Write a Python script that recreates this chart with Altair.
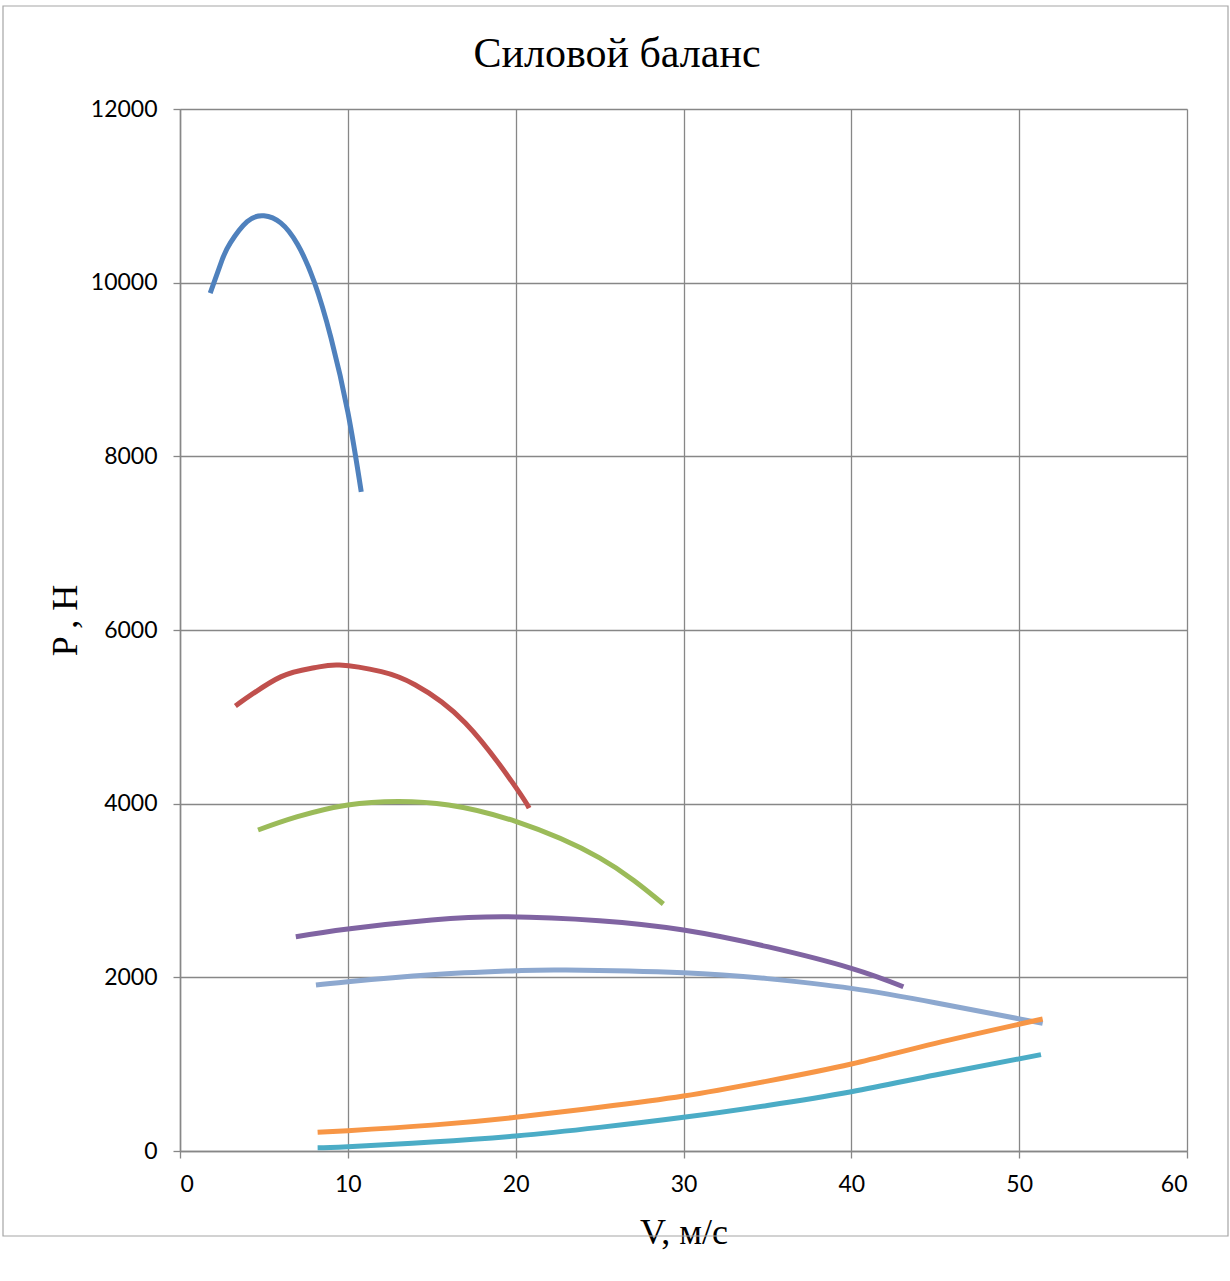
import altair as alt
import pandas as pd

# --- data ---
series_names = ["1", "2", "3", "4", "5", "Pψ+Pw", "Pw"]
series_colors = ["#4F81BD", "#C0504D", "#9BBB59", "#8064A2", "#8DA8CF", "#F79646", "#4BACC6"]

v1 = [1.8, 2.5, 3.0, 4.0, 5.0, 6.0, 7.0, 8.0, 9.0, 10.0, 10.8]
p1 = [9880, 10258, 10458, 10702, 10770, 10688, 10442, 10008, 9362, 8510, 7590]

v2 = [3.3, 6.0, 8.0, 9.5, 12.0, 14.0, 17.0, 20.0, 20.8]
p2 = [5125, 5460, 5565, 5597, 5520, 5370, 4930, 4190, 3950]

v3 = [4.65, 7.0, 10.0, 13.0, 16.0, 20.0, 25.0, 28.8]
p3 = [3697, 3850, 3985, 4025, 3985, 3795, 3375, 2845]

v4 = [6.9, 10.0, 15.0, 19.5, 25.0, 30.0, 35.0, 40.0, 43.1]
p4 = [2468, 2557, 2660, 2698, 2652, 2545, 2353, 2104, 1892]

v5 = [8.1, 10.0, 15.0, 20.0, 23.0, 30.0, 35.0, 40.0, 45.0, 51.4]
p5 = [1912, 1950, 2030, 2076, 2085, 2054, 1985, 1873, 1708, 1470]

v6 = [8.2, 10.0, 15.0, 20.0, 25.0, 30.0, 35.0, 40.0, 45.0, 51.4]
p6 = [215, 234, 298, 388, 503, 633, 805, 1002, 1240, 1520]

v7 = [8.2, 10.0, 15.0, 20.0, 25.0, 30.0, 35.0, 40.0, 45.0, 51.3]
p7 = [38, 50, 103, 173, 272, 388, 525, 683, 875, 1110]

x_ticks = [0, 10, 20, 30, 40, 50, 60]
y_ticks = [0, 2000, 4000, 6000, 8000, 10000, 12000]

title_text = "Силовой баланс"

rows = []
for name, vs, ps in zip(series_names, [v1, v2, v3, v4, v5, v6, v7],
                        [p1, p2, p3, p4, p5, p6, p7]):
    for i, (v, p) in enumerate(zip(vs, ps)):
        rows.append({"series": name, "V": v, "P": p, "order": i})
df = pd.DataFrame(rows)

GRID = "#878787"
SERIF = "Liberation Serif"
SANS = "Lato"

lines = alt.Chart(df).mark_line(strokeWidth=5, interpolate="natural").encode(
    x=alt.X("V:Q",
            scale=alt.Scale(domain=[0, 60], nice=False, zero=True),
            axis=alt.Axis(values=x_ticks, format="d", title="V, м/с", grid=True,
                          gridColor=GRID, gridWidth=1.3,
                          domainColor=GRID, domainWidth=1.5,
                          tickColor=GRID, tickSize=7, tickWidth=1.3,
                          labelFont=SANS, labelFontSize=23, labelColor="#000",
                          labelPadding=15,
                          titleFont=SERIF, titleFontSize=36, titleFontWeight="normal",
                          titleColor="#000", titleBaseline="middle", titleY=81)),
    y=alt.Y("P:Q",
            scale=alt.Scale(domain=[0, 12000], nice=False),
            axis=alt.Axis(values=y_ticks, format="d", title="P , H", grid=True,
                          gridColor=GRID, gridWidth=1.3,
                          domainColor=GRID, domainWidth=1.5,
                          tickColor=GRID, tickSize=7, tickWidth=1.3,
                          labelFont=SANS, labelFontSize=23, labelColor="#000",
                          labelPadding=16,
                          titleFont=SERIF, titleFontSize=36, titleFontWeight="normal",
                          titleColor="#000", titleAngle=-90, titleBaseline="middle",
                          titleAlign="center", titleX=-115, titleY=511)),
    color=alt.Color("series:N", scale=alt.Scale(domain=series_names, range=series_colors),
                    legend=None),
    order="order:Q",
)

frame = alt.Chart(alt.Data(values=[{}])).mark_rect(
    fillOpacity=0, stroke="#A6A6A6", strokeWidth=1.2
).encode(
    x=alt.value(-177), x2=alt.value(1048), y=alt.value(-103), y2=alt.value(1127)
)

title = alt.Chart(alt.Data(values=[{}])).mark_text(
    text=title_text, font=SERIF, fontSize=42, color="#000",
    align="center", baseline="alphabetic"
).encode(x=alt.value(437), y=alt.value(-42))

chart = alt.layer(lines, frame, title).properties(
    width=1007,
    height=1042,
    autosize=alt.AutoSizeParams(type="none"),
    padding={"left": 180, "top": 109, "right": 43, "bottom": 130},
).configure_view(stroke=None).configure(background="white")

chart.save("out.html", embed_options={"renderer": "svg", "actions": False})
